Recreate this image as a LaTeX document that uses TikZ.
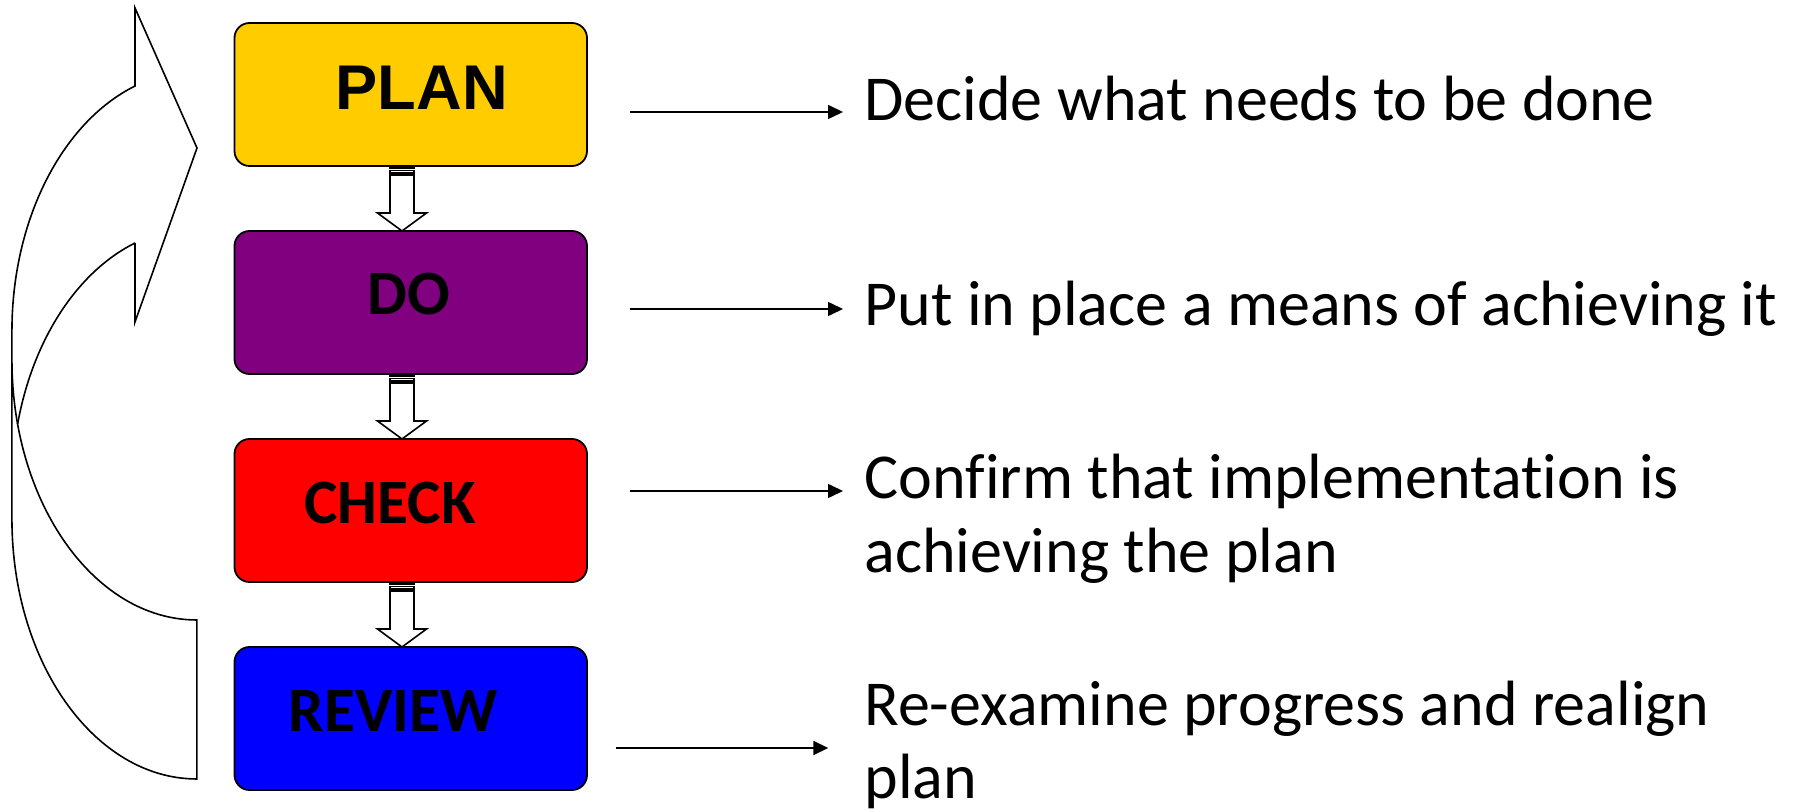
\documentclass[tikz,border=0pt]{standalone}
\usepackage{fontspec}
\setmainfont{Carlito}[Ligatures=CommonOff]
\newfontfamily\arialfont{Liberation Sans}
\usetikzlibrary{arrows.meta}
\definecolor{plancol}{HTML}{FFCC00}
\definecolor{docol}{HTML}{800080}
\definecolor{checkcol}{HTML}{FF0000}
\definecolor{reviewcol}{HTML}{0000FF}
\begin{document}
\begin{tikzpicture}[x=0.5pt,y=0.5pt,
  box/.style={draw=black, line width=0.9pt, rounded corners=7.5pt, minimum width=176.25pt, minimum height=71.5pt, inner sep=0pt, outer sep=0pt},
  boxlabel/.style={anchor=base, inner sep=0pt, font=\fontsize{31.6pt}{36pt}\selectfont\bfseries},
  desc/.style={anchor=base west, inner sep=0pt, align=left, font=\fontsize{32pt}{36.5pt}\selectfont},
  conn/.style={line width=0.8pt, -{Triangle[length=7.5pt,width=7pt]}},
  outline/.style={line width=0.8pt, line join=miter},
  striped/.pic={
    \draw[outline, fill=white] (-12,0) rectangle (12,-2);
    \draw[outline, fill=white] (-12,-4.5) rectangle (12,-7);
    \draw[outline, fill=white] (-12,-9) -- (-12,-47) -- (-24.5,-47) -- (0,-65) -- (24.5,-47) -- (12,-47) -- (12,-9) -- cycle;
  }
]
\useasboundingbox (0,0) rectangle (1794,-812);

% boxes
\node[box, fill=plancol] (plan) at (410.75,-94.5) {};
\node[box, fill=docol] (do) at (410.75,-302.5) {};
\node[box, fill=checkcol] (check) at (410.75,-510.5) {};
\node[box, fill=reviewcol] (review) at (410.75,-718.5) {};

% labels
\node[boxlabel, font=\fontsize{31.6pt}{36pt}\selectfont\arialfont\bfseries] (planlabel) at (421.7,-110) {PLAN};
\node[boxlabel] (dolabel) at (409,-315) {DO};
\node[boxlabel] (checklabel) at (390,-523.7) {CHECK};
\node[boxlabel] (reviewlabel) at (393.3,-731.7) {REVIEW};

% striped block arrows
\path (plan.south) ++(-8.75,0) pic {striped};
\path (do.south) ++(-8.75,0) pic {striped};
\path (check.south) ++(-8.75,0) pic {striped};

% descriptions (base anchor = baseline of last line)
\node[desc] (t1) at (864,-121) {Decide what needs to be done};
\node[desc] (t2) at (864,-326) {Put in place a means of achieving it};
\node[desc] (t3) at (864,-572) {Confirm that implementation is\\achieving the plan};
\node[desc] (t4) at (864,-798) {Re-examine progress and realign\\plan};

% connectors
\coordinate (p1s) at (630,-112); \coordinate (p1e) at (843,-112);
\coordinate (p2s) at (630,-309); \coordinate (p2e) at (843,-309);
\coordinate (p3s) at (630,-491); \coordinate (p3e) at (843,-491);
\coordinate (p4s) at (615.5,-748); \coordinate (p4e) at (828.3,-748);
\draw[conn] (p1s) -- (p1e);
\draw[conn] (p2s) -- (p2e);
\draw[conn] (p3s) -- (p3e);
\draw[conn] (p4s) -- (p4e);

% curved return arrow
\draw[outline] (135,-243) -- (135,-322) -- (197,-148) -- (135,-8) -- (135,-86)
  arc[start angle=109.56, end angle=180, x radius=185, y radius=260]
  -- ++(0,-188)
  arc[start angle=180, end angle=270, x radius=185, y radius=260]
  -- ++(0,159)
  arc[start angle=270, end angle=180, x radius=185, y radius=260];
\draw[outline] (135,-243) arc[start angle=109.56, end angle=165.75, x radius=185, y radius=260];
\end{tikzpicture}
\end{document}
